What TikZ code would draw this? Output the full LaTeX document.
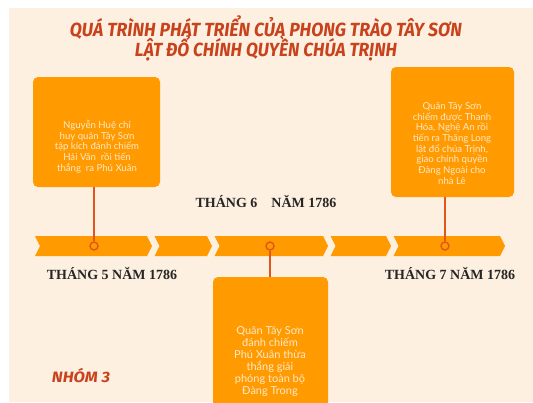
\documentclass[tikz,border=0pt]{standalone}
\usepackage{fontspec}
\usepackage{graphicx}
\newfontfamily\boxfont{Lato}
\newfontfamily\titlefont{Fira Sans}
\newfontfamily\datefont{Liberation Serif}
\definecolor{cream}{HTML}{FDF0E0}
\definecolor{orng}{HTML}{FF9A00}
\definecolor{linec}{HTML}{E2561C}
\definecolor{titlec}{HTML}{C8421C}
\definecolor{boxtext}{HTML}{FFE9C8}
\definecolor{datec}{HTML}{262626}
\newcommand\chevseg[2]{%
  \fill[orng] ({#1+2.5},236) -- ({#2-5},236) -- (#2,246) -- ({#2-5},256)
     -- ({#1+2.5},256) -- ({#1+7.5},246) -- cycle;}
\begin{document}
\begin{tikzpicture}[x=1pt,y=-1pt,
  infobox/.style={fill=orng, rounded corners=5pt, draw=none, inner sep=0pt},
  infotext/.style={text=boxtext, align=center, inner sep=0pt},
  dot/.style={circle, draw=linec, fill=orng, line width=1.4pt, minimum size=8pt, inner sep=0pt},
  conn/.style={draw=linec, line width=1.4pt},
  datelbl/.style={font=\datefont\bfseries\fontsize{14}{14}\selectfont, text=datec, inner sep=0pt},
  titletxt/.style={font=\titlefont\bfseries\itshape\fontsize{19}{20}\selectfont, text=titlec, inner sep=0pt}]
\useasboundingbox (0,0) rectangle (533,402);
\fill[white] (0,0) rectangle (533,402);
\fill[cream] (9,8) rectangle (533,402);

% title
\node[titletxt] (t1) at (266,28) {\resizebox{392pt}{\height}{QUÁ TRÌNH PHÁT TRIỂN CỦA PHONG TRÀO TÂY SƠN}};
\node[titletxt] (t2) at (266,48) {\resizebox{262pt}{\height}{LẬT ĐỔ CHÍNH QUYỀN CHÚA TRỊNH}};

% timeline band
\chevseg{32.5}{152}
\chevseg{152}{212}
\chevseg{212}{328}
\chevseg{328}{391}
\chevseg{391}{505}

% boxes
\begin{scope}[font=\boxfont\fontsize{9.6}{10.7}\selectfont]
\node[infobox, minimum width=127pt, minimum height=110pt] (boxA) at (96.5,132) {};
\node[infotext] (txtA) at (97,146.5) {Nguyễn Huệ chỉ\\huy quân Tây Sơn\\tập kích đánh chiếm\\Hải Vân~ rồi tiến\\thắng~ ra Phú Xuân};
\node[infobox, minimum width=123pt, minimum height=130pt] (boxC) at (452.5,132) {};
\node[infotext] (txtC) at (452,143.5) {Quân Tây Sơn\\chiếm được Thanh\\Hóa, Nghệ An rồi\\tiến ra Thăng Long\\lật đổ chúa Trịnh,\\giao chính quyền\\Đàng Ngoài cho\\nhà Lê};
\end{scope}
\node[infobox, minimum width=115pt, minimum height=140pt] (boxB) at (270.5,347) {};
\node[infotext, font=\boxfont\fontsize{11}{12}\selectfont] (txtB) at (270,362) {Quân Tây Sơn\\đánh chiếm\\Phú Xuân thừa\\thắng giải\\phóng toàn bộ\\Đàng Trong};

% dots and connectors
\node[dot] (d1) at (94,246) {};
\node[dot] (d2) at (270,246) {};
\node[dot] (d3) at (445,246) {};
\draw[conn] (boxA.south -| d1) -- (d1);
\draw[conn] (boxC.south -| d3) -- (d3);
\draw[conn] (d2) -- (d2 |- boxB.north);

% date labels
\node[datelbl] (l5) at (112,273) {THÁNG 5 NĂM 1786};
\node[datelbl] (l6) at (266,201) {THÁNG 6\quad NĂM 1786};
\node[datelbl] (l7) at (450,273) {THÁNG 7 NĂM 1786};

% group label
\node[titletxt, font=\titlefont\bfseries\itshape\fontsize{15}{16}\selectfont] (grp) at (81,375) {\resizebox{58pt}{\height}{NHÓM 3}};
\end{tikzpicture}
\end{document}
